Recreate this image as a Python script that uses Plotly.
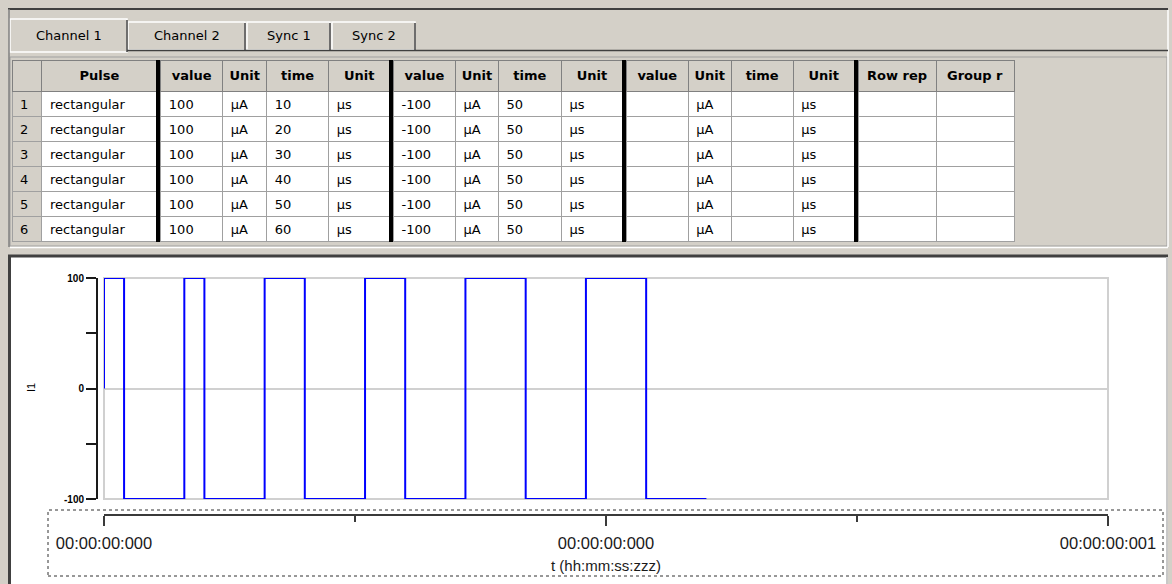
import plotly.graph_objects as go

W, H = 1172, 584

# ---------------- data: pulse table ----------------
row_numbers = ["1", "2", "3", "4", "5", "6"]
pulse_shape = ["rectangular", "rectangular", "rectangular", "rectangular", "rectangular", "rectangular"]
phase1_value = [100, 100, 100, 100, 100, 100]
phase1_unit = ["µA", "µA", "µA", "µA", "µA", "µA"]
phase1_time = [10, 20, 30, 40, 50, 60]
phase1_time_unit = ["µs", "µs", "µs", "µs", "µs", "µs"]
phase2_value = [-100, -100, -100, -100, -100, -100]
phase2_unit = ["µA", "µA", "µA", "µA", "µA", "µA"]
phase2_time = [50, 50, 50, 50, 50, 50]
phase2_time_unit = ["µs", "µs", "µs", "µs", "µs", "µs"]
phase3_value = ["", "", "", "", "", ""]
phase3_unit = ["µA", "µA", "µA", "µA", "µA", "µA"]
phase3_time = ["", "", "", "", "", ""]
phase3_time_unit = ["µs", "µs", "µs", "µs", "µs", "µs"]
row_repeat = ["", "", "", "", "", ""]
group_repeat = ["", "", "", "", "", ""]

header_labels = ["", "Pulse", "value", "Unit", "time", "Unit", "value", "Unit", "time", "Unit",
                 "value", "Unit", "time", "Unit", "Row rep", "Group r"]
tab_labels = ["Channel 1", "Channel 2", "Sync 1", "Sync 2"]

# ---------------- data: waveform as drawn (t in µs, I in µA) ----------------
wave_t = [0, 0, 20, 80, 100, 160, 200, 260, 300, 360, 420, 480, 540, 600]
wave_i = [0, 100, -100, 100, -100, 100, -100, 100, -100, 100, -100, 100, -100, -100]

y_tick_vals = [-100, -50, 0, 50, 100]
y_tick_text = ["-100", "", "0", "", "100"]
x_tick_vals = [0, 500, 1000]
x_tick_text = ["00:00:00:000", "00:00:00:000", "00:00:00:001"]
x_minor_vals = [250, 750]
y_title = "I1"
x_title = "t (hh:mm:ss:zzz)"

BG = "#D4D0C8"


def px(x):
    return x / W


def py(y):
    return 1 - y / H


# ---------------- table (with thin black separator columns) ----------------
blank = ["", "", "", "", "", ""]
groups = [
    [row_numbers, pulse_shape],
    [phase1_value, phase1_unit, phase1_time, phase1_time_unit],
    [phase2_value, phase2_unit, phase2_time, phase2_time_unit],
    [phase3_value, phase3_unit, phase3_time, phase3_time_unit],
    [row_repeat, group_repeat],
]
group_widths = [[30, 115], [62, 44, 62, 61], [62, 43, 63, 61], [62, 43, 62, 61], [78, 78]]
group_headers = [header_labels[0:2], header_labels[2:6], header_labels[6:10],
                 header_labels[10:14], header_labels[14:16]]

cols, widths, heads, hfill, cfill, hline, cline, aligns = [], [], [], [], [], [], [], []
for gi, (g, gw, gh) in enumerate(zip(groups, group_widths, group_headers)):
    if gi > 0:
        cols.append(blank)
        widths.append(4)
        heads.append("")
        hfill.append("black")
        cfill.append("black")
        hline.append("black")
        cline.append("black")
        aligns.append("left")
    for ci, (c, w, h) in enumerate(zip(g, gw, gh)):
        cols.append(c)
        widths.append(w)
        heads.append("<b>%s</b>" % h.replace(" ", "\u00a0") if h else "")
        hfill.append(BG)
        cfill.append(BG if (gi == 0 and ci == 0) else "white")
        hline.append("#808080")
        cline.append("#A0A0A0")
        aligns.append("left")

table = go.Table(
    domain=dict(x=[px(12), px(1015)], y=[py(245), py(60)]),
    columnwidth=widths,
    header=dict(values=heads, fill=dict(color=hfill), line=dict(color=hline, width=1),
                align="center", height=30,
                font=dict(family="DejaVu Sans", size=13, color="black")),
    cells=dict(values=cols, fill=dict(color=cfill), line=dict(color=cline, width=1),
               align=aligns, height=25,
               font=dict(family="DejaVu Sans", size=13, color="black")),
)

wave = go.Scatter(
    x=wave_t, y=wave_i, mode="lines", line=dict(color="#0000FF", width=2, shape="hv"),
    cliponaxis=False, hoverinfo="skip", showlegend=False,
)

fig = go.Figure([wave, table])

shapes = []
# outer frame / tabs area
shapes.append(dict(type="line", xref="paper", yref="paper", x0=px(8), x1=px(1168), y0=py(9), y1=py(9),
                   line=dict(color="#404040", width=2)))
shapes.append(dict(type="line", xref="paper", yref="paper", x0=px(9), x1=px(9), y0=py(9), y1=py(247),
                   line=dict(color="#808080", width=1.5)))
shapes.append(dict(type="line", xref="paper", yref="paper", x0=px(1168), x1=px(1168), y0=py(10), y1=py(247),
                   line=dict(color="#FFFFFF", width=1.5)))
shapes.append(dict(type="line", xref="paper", yref="paper", x0=px(127), x1=px(1168), y0=py(50.5), y1=py(50.5),
                   line=dict(color="#404040", width=1.5)))
# tabs
tab_x = [(10, 127), (128, 245), (247, 330), (332, 415)]
for i, (a, b) in enumerate(tab_x):
    top = 19 if i == 0 else 22
    bot = 52 if i == 0 else 50
    shapes.append(dict(type="rect", xref="paper", yref="paper", x0=px(a), x1=px(b), y0=py(bot), y1=py(top),
                       fillcolor=BG, line=dict(color="#FFFFFF", width=1.5), layer="below"))
    shapes.append(dict(type="line", xref="paper", yref="paper", x0=px(b), x1=px(b), y0=py(bot), y1=py(top + 1),
                       line=dict(color="#404040", width=1.5)))
# table frame
shapes.append(dict(type="rect", xref="paper", yref="paper", x0=px(10), x1=px(1167), y0=py(246), y1=py(57),
                   line=dict(color="#A0A0A0", width=1), layer="below"))
shapes.append(dict(type="line", xref="paper", yref="paper", x0=px(10), x1=px(1168), y0=py(247.5), y1=py(247.5),
                   line=dict(color="#FFFFFF", width=1.5)))
# chart panel
shapes.append(dict(type="rect", xref="paper", yref="paper", x0=px(10), x1=px(1167), y0=0, y1=py(256),
                   fillcolor="white", line=dict(width=0), layer="below"))
shapes.append(dict(type="line", xref="paper", yref="paper", x0=px(8), x1=px(1168), y0=py(256), y1=py(256),
                   line=dict(color="#404040", width=3)))
shapes.append(dict(type="line", xref="paper", yref="paper", x0=px(9.5), x1=px(9.5), y0=0, y1=py(256),
                   line=dict(color="#404040", width=3)))
shapes.append(dict(type="line", xref="paper", yref="paper", x0=px(1167), x1=px(1167), y0=0, y1=py(257),
                   line=dict(color="#C8C8C8", width=2)))
# plot area border
shapes.append(dict(type="rect", xref="x domain", yref="y domain", x0=0, x1=1, y0=0, y1=1,
                   line=dict(color="#D0D0D0", width=2), layer="below"))
# dotted time-axis box
shapes.append(dict(type="rect", xref="paper", yref="paper", x0=px(48), x1=px(1163), y0=py(576), y1=py(510),
                   line=dict(color="#303030", width=1, dash="dot")))

annotations = []
tab_centers = [(a + b) / 2 for a, b in tab_x]
for lab, cx in zip(tab_labels, tab_centers):
    annotations.append(dict(text=lab, x=px(cx), y=py(35.5), xref="paper", yref="paper", showarrow=False,
                            xanchor="center", yanchor="middle",
                            font=dict(family="DejaVu Sans", size=13, color="black")))
annotations.append(dict(text=y_title, x=px(31), y=py(388), xref="paper", yref="paper", showarrow=False,
                        textangle=-90, xanchor="center", yanchor="middle",
                        font=dict(family="Liberation Sans", size=11, color="black")))
annotations.append(dict(text=x_title, x=px(606), y=py(565), xref="paper", yref="paper", showarrow=False,
                        xanchor="center", yanchor="middle",
                        font=dict(family="Liberation Sans", size=15, color="#1a1a1a")))

fig.update_layout(
    width=W, height=H, margin=dict(l=0, r=0, t=0, b=0, pad=0), autosize=False,
    paper_bgcolor=BG, plot_bgcolor="white", showlegend=False,
    shapes=shapes, annotations=annotations,
    xaxis=dict(domain=[px(104), px(1108)], range=[0, 1000], anchor="free", position=py(515),
               automargin=False,
               showgrid=False, zeroline=False, showline=True, linecolor="#3a3a3a", linewidth=2,
               ticks="outside", ticklen=10, tickwidth=2, tickcolor="#3a3a3a",
               tickvals=x_tick_vals, ticktext=x_tick_text, ticklabelstandoff=3,
               minor=dict(tickvals=x_minor_vals, ticks="outside", ticklen=6, tickwidth=1.5, tickcolor="#3a3a3a"),
               tickfont=dict(family="Liberation Sans", size=16.5, color="#1a1a1a"), fixedrange=True),
    yaxis=dict(domain=[py(499), py(278)], range=[-100, 100], anchor="free", position=px(97),
               automargin=False,
               showgrid=False, zeroline=True, zerolinecolor="#D0D0D0", zerolinewidth=1.5,
               showline=True, linecolor="#1a1a1a", linewidth=2,
               ticks="outside", ticklen=10, tickwidth=2, tickcolor="#1a1a1a",
               tickvals=y_tick_vals, ticktext=y_tick_text,
               tickfont=dict(family="Liberation Sans", size=10, color="black", weight="bold"), fixedrange=True),
)

fig.write_html(
    "out.html",
    config={"displayModeBar": False},
    post_script="document.body.style.margin='0px'; document.body.style.overflow='hidden';",
)
